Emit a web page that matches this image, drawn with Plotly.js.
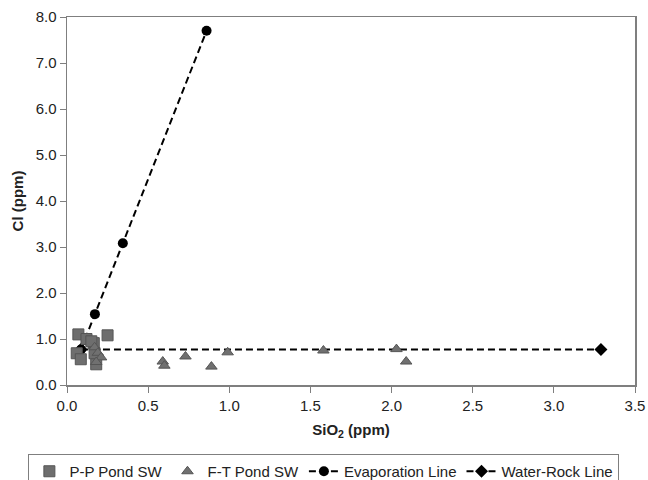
<!DOCTYPE html>
<html>
<head>
<meta charset="utf-8">
<script src="https://cdn.plot.ly/plotly-3.0.1.min.js"></script>
<style>html,body{margin:0;padding:0;background:#fff;}#chart{width:648px;height:480px;}</style>
</head>
<body>
<div id="chart"></div>
<script>
// P-P Pond SW
const ppX = [0.07, 0.06, 0.085, 0.12, 0.165, 0.17, 0.18, 0.25, 0.15];
const ppY = [1.10, 0.69, 0.56, 1.00, 0.91, 0.69, 0.45, 1.08, 0.95];
// F-T Pond SW
const ftX = [0.17, 0.19, 0.21, 0.18, 0.59, 0.60, 0.73, 0.89, 0.99, 1.58, 2.03, 2.09];
const ftY = [0.82, 0.70, 0.60, 0.50, 0.51, 0.42, 0.62, 0.40, 0.71, 0.75, 0.78, 0.51];
// Evaporation Line
const evX = [0.086, 0.172, 0.344, 0.86];
const evY = [0.77, 1.54, 3.08, 7.70];
// Water-Rock Line
const wrX = [0.086, 3.29];
const wrY = [0.77, 0.77];

const font = "Liberation Sans, Arial, sans-serif";
const traces = [
  {x: wrX, y: wrY, name: "Water-Rock Line", legendrank: 4, mode: "lines+markers", type: "scatter",
   line: {color: "#000", width: 2, dash: "7px,4px"},
   marker: {symbol: "diamond", size: 10, color: "#000"}},
  {x: evX, y: evY, name: "Evaporation Line", legendrank: 3, mode: "lines+markers", type: "scatter",
   line: {color: "#000", width: 2, dash: "7px,4px"},
   marker: {symbol: "circle", size: 10, color: "#000"}},
  {x: ppX, y: ppY, name: "P-P Pond SW", legendrank: 1, mode: "markers", type: "scatter",
   marker: {symbol: "square", size: 11, color: "#6e6e6e", line: {color: "#555", width: 1}}},
  {x: ftX, y: ftY, name: "F-T Pond SW", legendrank: 2, mode: "markers", type: "scatter",
   marker: {symbol: "triangle-up", size: 10, color: "#707070", line: {color: "#555", width: 1}}}
];

const axisCommon = {
  showgrid: false, zeroline: false, showline: true, linecolor: "#7f7f7f", linewidth: 1.5,
  mirror: true, ticks: "outside", ticklen: 6, tickcolor: "#7f7f7f",
  tickfont: {family: font, size: 15, color: "#222"}, tickformat: ".1f",
  ticklabeloverflow: "allow"
};

const layout = {
  width: 648, height: 480,
  margin: {l: 67, r: 13, t: 17, b: 95, autoexpand: false},
  paper_bgcolor: "#fff", plot_bgcolor: "#fff",
  font: {family: font, color: "#222"},
  showlegend: true,
  legend: {orientation: "h", x: -0.068, xanchor: "left", y: -0.1875, yanchor: "top",
    bordercolor: "#7f7f7f", borderwidth: 1, font: {family: font, size: 15, color: "#222"},
    traceorder: "normal", itemwidth: 30, tracegroupgap: 0},
  xaxis: Object.assign({}, axisCommon, {range: [0, 3.5], dtick: 0.5,
    title: {text: "<b>SiO<sub>2</sub> (ppm)</b>", font: {family: font, size: 15, color: "#222"}, standoff: 12}}),
  yaxis: Object.assign({}, axisCommon, {range: [0, 8], dtick: 1,
    title: {text: "<b>Cl (ppm)</b>", font: {family: font, size: 15, color: "#222"}, standoff: 8}})
};

Plotly.newPlot("chart", traces, layout, {displayModeBar: false, staticPlot: true});
</script>
</body>
</html>
